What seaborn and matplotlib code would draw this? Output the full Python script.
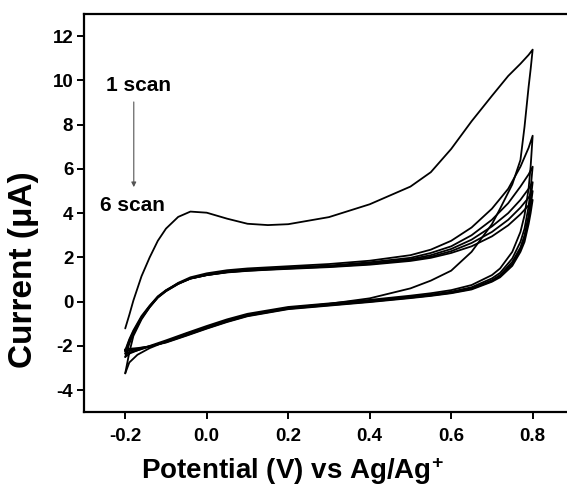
import matplotlib
matplotlib.use("Agg")
import numpy as np
import pandas as pd
import matplotlib.pyplot as plt
import seaborn as sns

# ---------------- data ----------------
E_fwd = [-0.2, -0.19, -0.18, -0.16, -0.14, -0.12, -0.1, -0.07, -0.04, 0.0, 0.05,
         0.1, 0.15, 0.2, 0.3, 0.4, 0.5, 0.55, 0.6, 0.65, 0.7, 0.74, 0.77, 0.79, 0.8]
E_rev = [0.8, 0.795, 0.79, 0.78, 0.77, 0.75, 0.72, 0.7, 0.65, 0.6, 0.55, 0.5,
         0.4, 0.3, 0.2, 0.1, 0.05, 0.0, -0.05, -0.1, -0.14, -0.17, -0.19, -0.2]

scan1_fwd = [-1.21, -0.6, 0.05, 1.15, 2.0, 2.75, 3.3, 3.83, 4.07, 4.02, 3.75, 3.52, 3.46,
             3.5, 3.82, 4.4, 5.2, 5.85, 6.9, 8.15, 9.3, 10.2, 10.75, 11.15, 11.39]
scan1_rev = [11.39, 10.5, 9.7, 7.9, 6.4, 5.3, 4.2, 3.5, 2.25, 1.4, 0.95, 0.6, 0.15, -0.1,
             -0.28, -0.6, -0.85, -1.15, -1.45, -1.8, -2.1, -2.4, -2.75, -3.24]

scan2_fwd = [-3.24, -2.3, -1.55, -0.8, -0.25, 0.2, 0.5, 0.85, 1.1, 1.28, 1.42, 1.5, 1.55,
             1.6, 1.7, 1.85, 2.1, 2.35, 2.75, 3.35, 4.2, 5.1, 6.1, 6.95, 7.5]
scan2_rev = [7.5, 6.1, 5.1, 3.9, 3.15, 2.25, 1.5, 1.2, 0.75, 0.52, 0.38, 0.27, 0.08, -0.08,
             -0.24, -0.55, -0.8, -1.1, -1.42, -1.75, -2.0, -2.2, -2.35, -2.5]

scan3_fwd = [-2.5, -1.9, -1.45, -0.75, -0.25, 0.18, 0.47, 0.8, 1.05, 1.22, 1.37, 1.45, 1.5,
             1.55, 1.63, 1.78, 1.98, 2.2, 2.5, 3.0, 3.7, 4.45, 5.2, 5.75, 6.1]
scan3_rev = [6.1, 5.1, 4.3, 3.3, 2.7, 1.95, 1.3, 1.05, 0.65, 0.45, 0.32, 0.22, 0.04, -0.12,
             -0.28, -0.6, -0.85, -1.15, -1.47, -1.8, -2.03, -2.2, -2.3, -2.35]

scan4_fwd = [-2.35, -1.8, -1.4, -0.72, -0.22, 0.2, 0.48, 0.8, 1.04, 1.2, 1.34, 1.42, 1.47,
             1.52, 1.6, 1.73, 1.92, 2.1, 2.38, 2.8, 3.4, 4.0, 4.6, 5.1, 5.4]
scan4_rev = [5.4, 4.6, 3.9, 3.0, 2.45, 1.8, 1.2, 0.97, 0.6, 0.42, 0.3, 0.2, 0.02, -0.14,
             -0.3, -0.62, -0.88, -1.17, -1.5, -1.82, -2.03, -2.15, -2.22, -2.25]

scan5_fwd = [-2.25, -1.75, -1.35, -0.7, -0.2, 0.22, 0.5, 0.82, 1.04, 1.2, 1.33, 1.4, 1.45,
             1.5, 1.58, 1.7, 1.88, 2.03, 2.28, 2.65, 3.15, 3.7, 4.25, 4.7, 5.0]
scan5_rev = [5.0, 4.3, 3.7, 2.85, 2.35, 1.7, 1.15, 0.93, 0.58, 0.4, 0.28, 0.18, 0.0, -0.16,
             -0.32, -0.64, -0.9, -1.2, -1.52, -1.83, -2.02, -2.12, -2.17, -2.2]

scan6_fwd = [-2.2, -1.7, -1.3, -0.65, -0.18, 0.24, 0.52, 0.83, 1.05, 1.2, 1.32, 1.39, 1.44,
             1.48, 1.56, 1.67, 1.84, 1.98, 2.2, 2.5, 2.95, 3.45, 3.95, 4.35, 4.6]
scan6_rev = [4.6, 4.0, 3.5, 2.7, 2.25, 1.62, 1.1, 0.9, 0.55, 0.38, 0.26, 0.16, -0.02, -0.18,
             -0.34, -0.66, -0.92, -1.22, -1.54, -1.85, -2.02, -2.1, -2.13, -2.15]

x_ticks = [-0.2, 0.0, 0.2, 0.4, 0.6, 0.8]
x_tick_labels = ["-0.2", "0.0", "0.2", "0.4", "0.6", "0.8"]
y_ticks = [-4, -2, 0, 2, 4, 6, 8, 10, 12]
y_tick_labels = ["-4", "-2", "0", "2", "4", "6", "8", "10", "12"]

x_label = "Potential (V) vs Ag/Ag$^{+}$"
y_label = "Current (\u03bcA)"
note_top = "1 scan"
note_bottom = "6 scan"

# ---------------- build long table ----------------
scans = [(scan1_fwd, scan1_rev), (scan2_fwd, scan2_rev), (scan3_fwd, scan3_rev),
         (scan4_fwd, scan4_rev), (scan5_fwd, scan5_rev), (scan6_fwd, scan6_rev)]
rows = []
for i, (fwd, rev) in enumerate(scans, start=1):
    k = 0
    for e, c in zip(E_fwd, fwd):
        rows.append((i, k, e, c)); k += 1
    for e, c in zip(E_rev, rev):
        rows.append((i, k, e, c)); k += 1
df = pd.DataFrame(rows, columns=["scan", "step", "E", "I"])

# ---------------- style ----------------
sns.set_style("ticks")
plt.rcParams["font.family"] = ["Liberation Sans", "DejaVu Sans"]
plt.rcParams["font.weight"] = "bold"
plt.rcParams["text.color"] = "black"
plt.rcParams["axes.labelcolor"] = "black"
plt.rcParams["xtick.color"] = "black"
plt.rcParams["ytick.color"] = "black"
plt.rcParams["axes.unicode_minus"] = False
plt.rcParams["mathtext.fontset"] = "custom"
plt.rcParams["mathtext.rm"] = "Liberation Sans:bold"
plt.rcParams["mathtext.bf"] = "Liberation Sans:bold"
plt.rcParams["mathtext.it"] = "Liberation Sans:bold"
plt.rcParams["mathtext.default"] = "bf"

fig = plt.figure(figsize=(5.67, 4.87), dpi=100)
ax = fig.add_axes([0.149, 0.1534, 0.8623, 0.8179])

sns.lineplot(data=df, x="E", y="I", units="scan", estimator=None, sort=False,
             color="black", linewidth=1.3, legend=False, ax=ax)

ax.set_xlim(-0.3, 0.9)
ax.set_ylim(-5, 13)
ax.set_xticks(x_ticks)
ax.set_xticklabels(x_tick_labels)
ax.set_yticks(y_ticks)
ax.set_yticklabels(y_tick_labels)
ax.tick_params(direction="out", length=5, width=1.4, labelsize=13.5,
               colors="black", labelcolor="black")
ax.tick_params(axis="x", pad=6)
ax.tick_params(axis="y", pad=3)
for lab in ax.get_xticklabels() + ax.get_yticklabels():
    lab.set_fontweight("bold")
    lab.set_color("black")
for sp in ax.spines.values():
    sp.set_visible(True)
    sp.set_linewidth(1.6)
    sp.set_color("black")

ax.set_xlabel(x_label, fontsize=20, fontweight="bold", va="center", color="black")
ax.xaxis.set_label_coords(0.4254, -0.147)
ax.set_ylabel(y_label, fontsize=24, fontweight="bold", va="center", color="black")
ax.yaxis.set_label_coords(-0.124, 0.357)

ax.text(-0.167, 9.77, note_top, fontsize=15, fontweight="bold", ha="center", va="center",
        color="black")
ax.text(-0.182, 4.33, note_bottom, fontsize=15, fontweight="bold", ha="center", va="center",
        color="black")
ax.annotate("", xy=(-0.179, 5.05), xytext=(-0.179, 9.15),
            arrowprops=dict(arrowstyle="-|>", color="#555555", lw=0.8, mutation_scale=7))

fig.savefig("out.png", dpi=100)
